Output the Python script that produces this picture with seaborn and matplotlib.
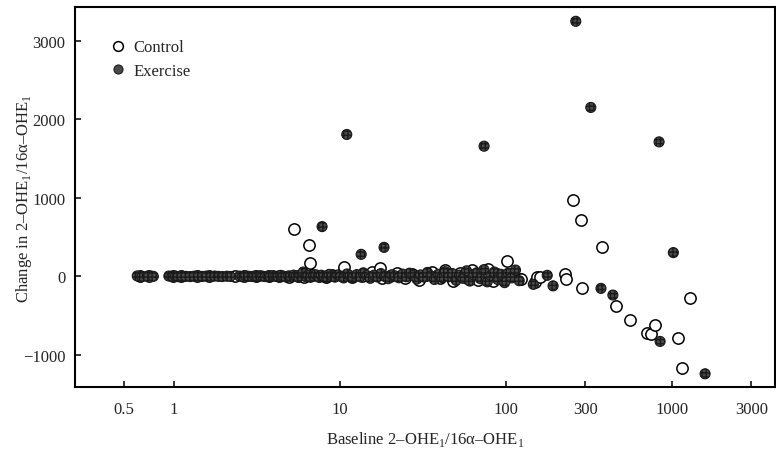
import numpy as np
import pandas as pd
import seaborn as sns
import matplotlib.pyplot as plt
from matplotlib.lines import Line2D
from matplotlib.ticker import FixedLocator, FixedFormatter, NullLocator

# Control group: baseline ratio and change
control_x = [0.62, 0.71, 0.99, 1.10, 1.37, 1.62, 2.33, 2.62, 3.10, 3.72, 4.30, 4.95,
             5.55, 6.10, 6.75, 7.50, 8.20, 9.00, 10.3, 11.8, 13.5, 15.6, 18.0, 20.0,
             22.0, 24.5, 27.0, 30.0, 33.0, 36.0, 40.0, 42.9, 48.0, 53.0, 58.0, 62.0,
             68.0, 72.0, 78.0, 83.0, 88.0, 95.0, 101, 121, 123, 150, 153, 160, 227,
             229, 253, 284, 288, 377, 460, 561, 710, 747, 787, 1092, 1154, 1283,
             5.28, 6.53, 6.56, 10.6, 17.4]
control_y = [0, 3, 0, -2, 0, 2, 0, 3, -2, 0, 5, -3,
             8, -5, 12, 0, -8, 15, 30, -12, 5, 60, -20, 10,
             40, -15, 25, -45, 15, 55, -25, 85, -60, 40, -20, 75,
             -50, 20, 95, -65, 35, -30, 191, -29, -29, -76, -12, -8, 25,
             -36, 968, 717, -153, 373, -378, -552, -726, -735, -615, -786, -1168, -271,
             608, 395, 174, 118, 111]

# Exercise group
exercise_x = [0.60, 0.64, 0.69, 0.75, 0.93, 0.97, 1.02, 1.06, 1.12, 1.18, 1.25, 1.32,
              1.40, 1.48, 1.56, 1.68, 1.76, 1.85, 1.95, 2.08, 2.18, 2.48, 2.58, 2.70,
              2.82, 2.95, 3.05, 3.18, 3.30, 3.42, 3.55, 3.68, 3.80, 3.95, 4.10, 4.25,
              4.40, 4.55, 4.72, 4.90, 5.05, 5.25, 5.45, 5.62, 5.80, 6.00, 6.20, 6.42,
              6.65, 6.90, 7.15, 7.40, 7.70, 8.00, 8.30, 8.60, 8.95, 9.30, 9.70, 10.1,
              10.5, 11.0, 11.5, 12.0, 12.6, 13.2, 13.8, 14.5, 15.2, 16.0, 16.8, 17.6,
              18.5, 19.5, 20.5, 21.5, 22.6, 23.8, 25.0, 26.2, 27.5, 29.0, 30.5, 32.0,
              33.6, 35.3, 37.0, 39.0, 41.0, 43.0, 45.2, 47.5, 50.0, 52.5, 55.0, 57.8,
              60.5, 63.5, 66.5, 70.0, 73.5, 77.0, 81.0, 85.0, 89.0, 93.5, 98.0, 103,
              108, 114, 120, 146, 177, 192, 373, 440, 847, 1018, 1581,
              7.79, 10.97, 13.4, 18.4, 73.7, 263, 324, 835]
exercise_y = [5, -3, 2, 0, 4, -2, 3, -4, 1, 0, -3, 2,
              5, -1, 3, -2, 4, 0, -3, 2, -1, 3, -4, 6,
              1, -2, 4, -5, 8, 2, -3, 5, -6, 9, 0, -4,
              12, 3, -8, 6, -2, 15, 4, -10, 7, 55, -3, 10,
              -12, 5, 20, -6, 14, 2, -15, 25, 5, -10, 18, 0,
              -20, 30, 8, -14, 22, -5, 45, 10, -25, 15, -8, 35,
              0, -30, 20, 5, -18, 28, -6, 40, 12, -35, 18, -10,
              50, 5, -40, 25, -15, 60, -5, 35, -50, 15, -25, 70,
              -60, 20, 45, -30, 85, -70, 10, 55, -40, 25, -80, 40,
              -20, 80, -55, -102, 13, -121, -153, -238, -828, 302, -1240,
              633, 1805, 280, 369, 1656, 3245, 2149, 1711]

df_c = pd.DataFrame({"baseline": control_x, "change": control_y})
df_e = pd.DataFrame({"baseline": exercise_x, "change": exercise_y})

sns.set_style("ticks")
plt.rcParams["font.family"] = ["Liberation Serif", "DejaVu Serif"]
plt.rcParams["mathtext.fontset"] = "custom"
plt.rcParams["mathtext.rm"] = "Liberation Serif"

fig = plt.figure(figsize=(7.76, 4.56), dpi=100)
ax = fig.add_axes([75 / 776, 68 / 456, 700 / 776, 380 / 456])

# open circles underneath, filled exercise markers on top
sns.scatterplot(data=df_c, x="baseline", y="change", ax=ax, marker="o", s=66,
                facecolor="white", edgecolor="black", linewidth=1.1)
sns.scatterplot(data=df_e, x="baseline", y="change", ax=ax, marker="o", s=52,
                color="#4a4a4a", edgecolor="#1a1a1a", linewidth=0.8, hatch="++++")

ax.set_xscale("log")
ax.set_xlim(0.253, 4170)
ax.set_ylim(-1408, 3427)

xt = [0.5, 1, 10, 100, 300, 1000, 3000]
ax.xaxis.set_major_locator(FixedLocator(xt))
ax.xaxis.set_major_formatter(FixedFormatter(["0.5", "1", "10", "100", "300", "1000", "3000"]))
ax.xaxis.set_minor_locator(NullLocator())
ax.set_yticks([-1000, 0, 1000, 2000, 3000])
ax.set_yticklabels(["\u22121000", "0", "1000", "2000", "3000"])

ax.tick_params(axis="x", direction="in", length=4, width=1.3, labelsize=12, pad=10, top=False)
ax.tick_params(axis="y", direction="in", length=4, width=1.3, labelsize=12, pad=7, right=False)
for sp in ax.spines.values():
    sp.set_linewidth(1.5)
    sp.set_color("black")

ax.set_xlabel("Baseline 2\u2013OHE$_\\mathrm{1}$/16\u03b1\u2013OHE$_\\mathrm{1}$", fontsize=12, labelpad=9)
ax.set_ylabel("Change in 2\u2013OHE$_\\mathrm{1}$/16\u03b1\u2013OHE$_\\mathrm{1}$", fontsize=12)
ax.yaxis.set_label_coords(-0.059, 0.5)

handles = [
    Line2D([], [], marker="o", linestyle="", markersize=7, markerfacecolor="white",
           markeredgecolor="black", markeredgewidth=1.1, label="Control"),
    Line2D([], [], marker="o", linestyle="", markersize=6.5, markerfacecolor="#4a4a4a",
           markeredgecolor="#1a1a1a", markeredgewidth=0.8, label="Exercise"),
]
ax.legend(handles=handles, loc="upper left", bbox_to_anchor=(0.026, 0.954), frameon=False,
          fontsize=12, handletextpad=0.3, labelspacing=0.45, handlelength=1.2)

fig.savefig("out.png", dpi=100)
